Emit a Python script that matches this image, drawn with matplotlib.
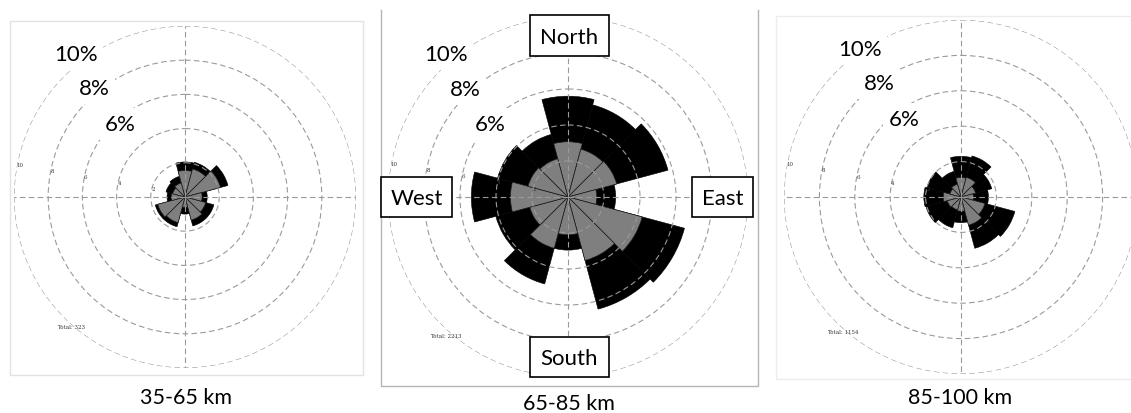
import numpy as np
import matplotlib
matplotlib.use('Agg')
from matplotlib import pyplot as plt
from matplotlib.patches import Rectangle
from matplotlib.lines import Line2D

# 12 direction sectors, 30 degrees each, clockwise from north
directions = np.arange(0, 360, 30)

# percentage of observations per sector: gray = lower class, total = both classes
gray_35_65 = [1.55, 1.7, 2.15, 1.0, 1.25, 1.4, 0.6, 1.55, 1.65, 0.8, 0.75, 0.85]
total_35_65 = [2.05, 2.1, 2.6, 1.3, 1.75, 1.75, 1.0, 1.8, 1.8, 1.05, 1.15, 1.25]

gray_65_85 = [3.07, 2.75, 2.8, 1.6, 4.27, 3.65, 2.1, 2.95, 2.2, 3.2, 2.3, 2.2]
total_65_85 = [5.6, 5.3, 5.75, 2.65, 6.7, 6.45, 2.95, 5.0, 4.15, 5.37, 4.05, 3.6]

gray_85_100 = [1.1, 1.15, 0.85, 0.7, 1.4, 1.65, 0.8, 0.75, 0.8, 1.0, 0.65, 0.75]
total_85_100 = [2.3, 2.4, 1.8, 1.55, 3.15, 3.0, 1.45, 1.8, 2.05, 2.1, 2.0, 1.5]

titles = ['35-65 km', '65-85 km', '85-100 km']
totals = [323, 2213, 1154]
rings = [2, 4, 6, 8, 10]
ring_labels = ['10%', '8%', '6%']
compass = ['North', 'East', 'South', 'West']

W, H = 1131, 414


def fx(x):
    return x / W


def fy(y):
    return 1 - y / H


fig = plt.figure(figsize=(W / 100, H / 100), dpi=100)
fig.patch.set_facecolor('white')
label_font = ['Lato', 'DejaVu Sans']

# light frames around the outer roses
for (x0, y0, x1, y1), c in [((10, 22, 363, 376), '#e2e2e2'),
                            ((776, 17, 1140, 380), '#ececec')]:
    fig.add_artist(Rectangle((fx(x0), fy(y1)), (x1 - x0) / W, (y1 - y0) / H,
                             transform=fig.transFigure, fill=False,
                             edgecolor=c, linewidth=1.0))
# middle frame is open at the top
mid = Line2D([fx(381), fx(381), fx(758), fx(758)],
             [fy(11), fy(387), fy(387), fy(11)],
             transform=fig.transFigure, color='#b4b4b4', linewidth=1.0)
fig.add_artist(mid)

# rose centre and radius (pixels) of each panel
layout = [(185, 198, 171), (568, 198, 180), (961, 198, 177)]
data = [(gray_35_65, total_35_65), (gray_65_85, total_65_85),
        (gray_85_100, total_85_100)]
total_pos = [(57, 328), (430, 337), (827, 333)]
title_pos = [(186, 398), (569, 404), (960, 398)]
pct_pos = [[(76, 55), (94, 89), (120, 125)],
           [(446, 55), (465, 90), (490, 125)],
           [(860, 50), (879, 84), (904, 120)]]

theta = np.radians(directions)
width = np.radians(30)

for i, (cx, cy, r) in enumerate(layout):
    ax = fig.add_axes([fx(cx - r), fy(cy + r), 2 * r / W, 2 * r / H],
                      projection='polar')
    ax.set_facecolor('none')
    ax.set_theta_zero_location('N')
    ax.set_theta_direction(-1)

    gray, total = data[i]
    ax.bar(theta, total, width=width, color='black', edgecolor='black',
           linewidth=0.4)
    ax.bar(theta, gray, width=width, color='#7f7f7f', edgecolor='#1a1a1a',
           linewidth=0.5)

    ax.set_ylim(0, 10)
    ax.set_rgrids(rings, labels=[str(v) for v in rings], angle=280,
                  fontsize=4, family='DejaVu Serif', color='#333333')
    ax.set_thetagrids([0, 90, 180, 270], labels=['', '', '', ''])
    ax.grid(True, color='#9a9a9a', linestyle=(0, (5, 3)), linewidth=0.8)
    ax.spines['polar'].set_visible(False)

    fig.text(fx(total_pos[i][0]), fy(total_pos[i][1]), 'Total: %d' % totals[i],
             fontsize=4, family='DejaVu Serif', color='#333333',
             ha='left', va='center')

    fig.text(fx(title_pos[i][0]), fy(title_pos[i][1]), titles[i],
             fontsize=15.5, family=label_font, ha='center', va='center')

    for lab, (px, py) in zip(ring_labels, pct_pos[i]):
        fig.text(fx(px), fy(py), lab, fontsize=16, family=label_font,
                 ha='center', va='center',
                 bbox=dict(facecolor='white', edgecolor='none', pad=4))

# compass boxes on the middle rose
boxes = {'North': (530, 16, 609, 57), 'East': (692, 178, 753, 218),
         'South': (530, 338, 609, 378), 'West': (381, 178, 452, 218)}
for name in compass:
    x0, y0, x1, y1 = boxes[name]
    fig.add_artist(Rectangle((fx(x0), fy(y1)), (x1 - x0) / W, (y1 - y0) / H,
                             transform=fig.transFigure, facecolor='white',
                             edgecolor='black', linewidth=1.2, zorder=5))
    fig.text(fx((x0 + x1) / 2), fy((y0 + y1) / 2 + 1), name, fontsize=16,
             family=label_font, ha='center', va='center', zorder=6)

fig.savefig('out.png', dpi=100)
